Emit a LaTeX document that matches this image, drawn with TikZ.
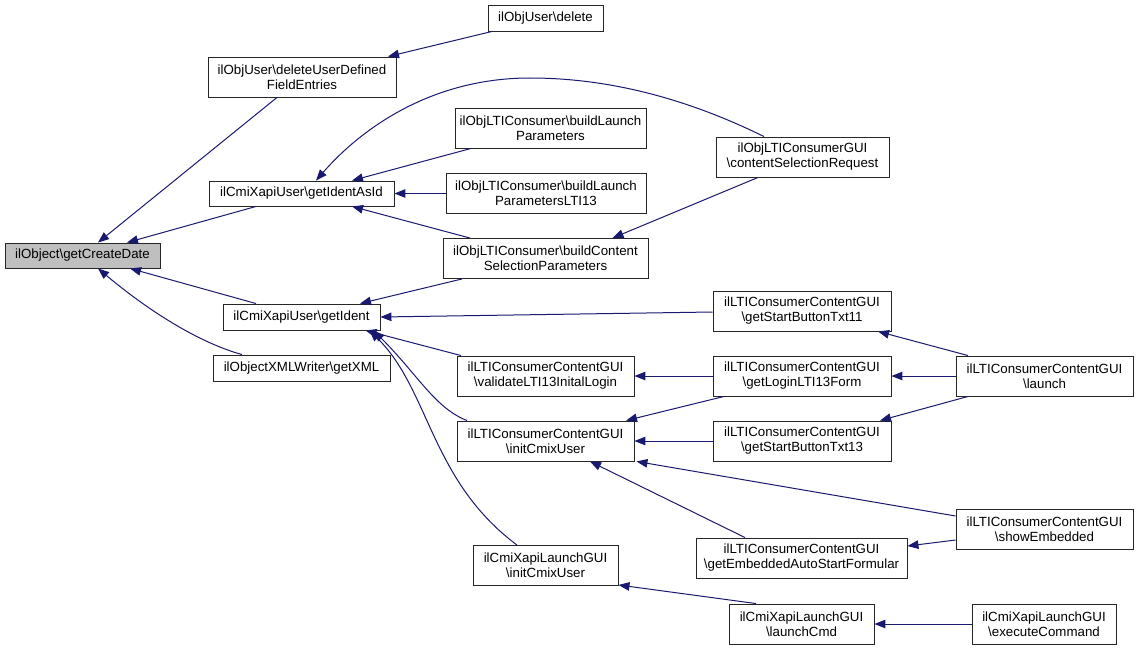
\documentclass[tikz,border=0pt]{standalone}
\usepackage{fontspec}
\setmainfont{Liberation Sans}
\usetikzlibrary{arrows.meta}
\newcommand\bsl{\textbackslash}
\definecolor{mblue}{RGB}{25,25,112}
\definecolor{boxgray}{RGB}{191,191,191}
\begin{document}
\begin{tikzpicture}[x=1pt,y=-1pt,
  box/.style={draw=black!85, fill=white, line width=0.9pt, inner sep=0pt, align=center,
    font=\fontsize{13.3}{15}\selectfont},
  edge/.style={draw=mblue, line width=1pt, -{Triangle[length=11pt,width=8.5pt]}}]
\useasboundingbox (0,0) rectangle (1139,650);
% nodes
\node[box, fill=boxgray, minimum width=155pt, minimum height=25pt] (gcd) at (82.5,255.5) {ilObject\bsl getCreateDate};
\node[box, minimum width=188pt, minimum height=40pt] (dud) at (302,77) {ilObjUser\bsl deleteUserDefined\\FieldEntries};
\node[box, minimum width=115pt, minimum height=26pt] (del) at (545.5,18) {ilObjUser\bsl delete};
\node[box, minimum width=185pt, minimum height=25pt] (gia) at (301.5,193.5) {ilCmiXapiUser\bsl getIdentAsId};
\node[box, minimum width=191pt, minimum height=40pt] (blp) at (550.5,128) {ilObjLTIConsumer\bsl buildLaunch\\Parameters};
\node[box, minimum width=200pt, minimum height=40pt] (blpt) at (546,193) {ilObjLTIConsumer\bsl buildLaunch\\ParametersLTI13};
\node[box, minimum width=173pt, minimum height=40pt] (csr) at (802.5,157) {ilObjLTIConsumerGUI\\\bsl contentSelectionRequest};
\node[box, minimum width=205pt, minimum height=40pt] (bcsp) at (545.5,258.5) {ilObjLTIConsumer\bsl buildContent\\SelectionParameters};
\node[box, minimum width=157pt, minimum height=26pt] (gi) at (301.5,317) {ilCmiXapiUser\bsl getIdent};
\node[box, minimum width=177pt, minimum height=26pt] (gxml) at (301.5,368) {ilObjectXMLWriter\bsl getXML};
\node[box, minimum width=178pt, minimum height=40pt] (sbe) at (802,311) {ilLTIConsumerContentGUI\\\bsl getStartButtonTxt11};
\node[box, minimum width=177pt, minimum height=40pt] (val) at (545.5,376) {ilLTIConsumerContentGUI\\\bsl validateLTI13InitalLogin};
\node[box, minimum width=178pt, minimum height=40pt] (login) at (802,376) {ilLTIConsumerContentGUI\\\bsl getLoginLTI13Form};
\node[box, minimum width=177pt, minimum height=40pt] (icu) at (545.5,441) {ilLTIConsumerContentGUI\\\bsl initCmixUser};
\node[box, minimum width=178pt, minimum height=40pt] (sbt) at (802,441) {ilLTIConsumerContentGUI\\\bsl getStartButtonTxt13};
\node[box, minimum width=177pt, minimum height=40pt] (launch) at (1044.5,376) {ilLTIConsumerContentGUI\\\bsl launch};
\node[box, minimum width=177pt, minimum height=40pt] (show) at (1044.5,529) {ilLTIConsumerContentGUI\\\bsl showEmbedded};
\node[box, minimum width=211pt, minimum height=40pt] (gea) at (801.5,558) {ilLTIConsumerContentGUI\\\bsl getEmbeddedAutoStartFormular};
\node[box, minimum width=145pt, minimum height=40pt] (xicu) at (545.5,565.5) {ilCmiXapiLaunchGUI\\\bsl initCmixUser};
\node[box, minimum width=145pt, minimum height=40pt] (lcmd) at (801.5,624) {ilCmiXapiLaunchGUI\\\bsl launchCmd};
\node[box, minimum width=144pt, minimum height=40pt] (exec) at (1044,624) {ilCmiXapiLaunchGUI\\\bsl executeCommand};
% edges
\draw[edge] ([xshift=-25pt]dud.south) -- ([xshift=15.5pt]gcd.north);
\draw[edge] ([xshift=-45.5pt]gia.south) -- ([xshift=44.5pt]gcd.north);
\draw[edge] ([xshift=-45.5pt]gi.north) -- ([xshift=47.5pt]gcd.south);
\draw[edge] ([xshift=-59.5pt]gxml.north) .. controls (200,343) and (150,312) .. ([xshift=15.5pt]gcd.south);
\draw[edge] ([xshift=-53.5pt]del.south) -- ([xshift=86pt]dud.north);
\draw[edge] ([xshift=-38.5pt]csr.north) .. controls (700,105) and (620,78) .. (530,78)
   .. controls (430,78) and (360,130) .. ([xshift=14.5pt]gia.north);
\draw[edge] ([xshift=-79.5pt]blp.south) -- ([xshift=50.5pt]gia.north);
\draw[edge] ([yshift=-0.5pt]blpt.west) -- (gia.east);
\draw[edge] ([xshift=-75.5pt]bcsp.north) -- ([xshift=50.5pt]gia.south);
\draw[edge] ([xshift=-44.5pt]csr.south) -- ([xshift=67pt]bcsp.north);
\draw[edge] ([xshift=-83.5pt]bcsp.south) -- ([xshift=58.5pt]gi.north);
\draw[edge] ([yshift=-1pt]sbe.west) -- (gi.east);
\draw[edge] ([xshift=-84.5pt]val.north) -- ([xshift=64pt]gi.south);
\draw[edge] ([xshift=-78.5pt]icu.north) .. controls (435,408) and (418,375) .. ([xshift=72pt]gi.south);
\draw[edge] ([xshift=-28.5pt]xicu.north) .. controls (430,480) and (430,390) .. ([xshift=68pt]gi.south);
\draw[edge] (login.west) -- (val.east);
\draw[edge] ([xshift=-76.5pt]launch.north) -- ([xshift=76pt]sbe.south);
\draw[edge] (launch.west) -- (login.east);
\draw[edge] ([xshift=-76.5pt]launch.south) -- ([xshift=78pt]sbt.north);
\draw[edge] ([xshift=-78pt]login.south) -- ([xshift=80.5pt]icu.north);
\draw[edge] (sbt.west) -- (icu.east);
\draw[edge] ([yshift=13pt]show.west) -- ([xshift=2pt]icu.south east);
\draw[edge] ([xshift=-56.5pt]gea.north) -- ([xshift=44.5pt]icu.south);
\draw[edge] ([yshift=-11pt]show.west) -- ([yshift=12pt]gea.east);
\draw[edge] ([xshift=-45.5pt]lcmd.north) -- ([yshift=1pt]xicu.south east);
\draw[edge] (exec.west) -- (lcmd.east);
\end{tikzpicture}
\end{document}
